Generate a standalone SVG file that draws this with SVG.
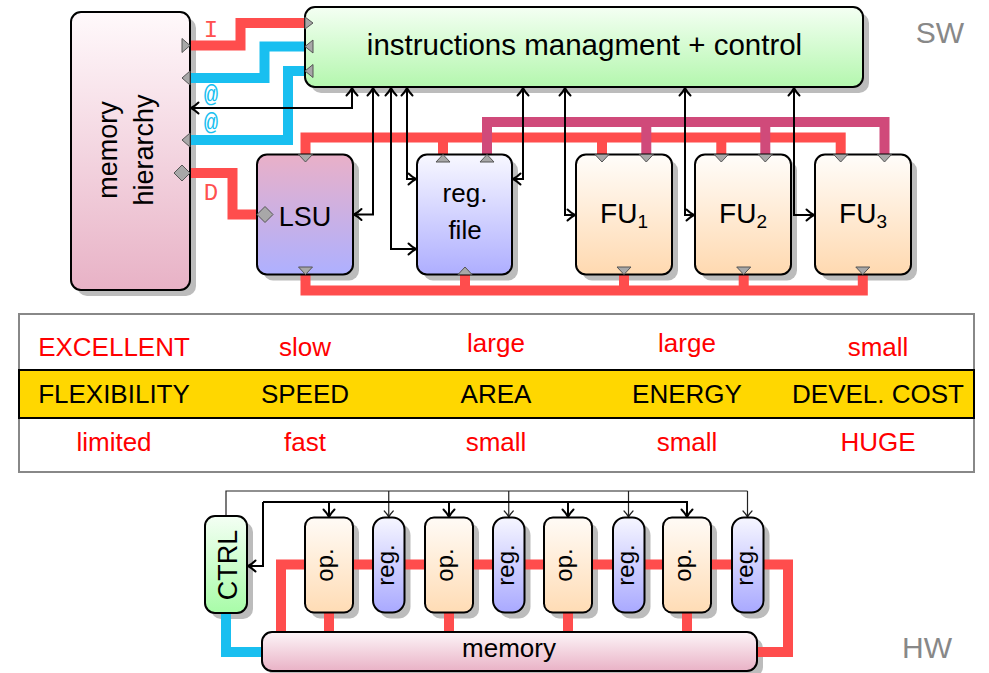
<svg xmlns="http://www.w3.org/2000/svg" width="989" height="673" viewBox="0 0 989 673">
<style>
text{font-family:"Liberation Sans",Arial,sans-serif;fill:#000}
.box{stroke:#000;stroke-width:2}
.sh{fill:#bcbcbc}
.port{fill:#a8a8a8;stroke:#555;stroke-width:1}
.red{fill:none;stroke:#ff4d4d;stroke-width:10}
.blue{fill:none;stroke:#19bff0;stroke-width:10}
.pur{fill:none;stroke:#d04a7a;stroke-width:10}
.ar{fill:none;stroke:#000;stroke-width:2;marker-start:url(#ah);marker-end:url(#ah)}
.ae{fill:none;stroke:#000;stroke-width:2;marker-end:url(#ah)}
.at{fill:none;stroke:#222;stroke-width:1.2;marker-end:url(#at)}
.atn{fill:none;stroke:#222;stroke-width:1.2}
.lab{font-family:"Liberation Mono","Courier New",monospace;font-size:24px}
.tr{fill:#ff0000;font-size:26px}
.tb{font-size:26px}
.gray{fill:#888;font-size:30px}
</style>
<defs>
<linearGradient id="gMH" x1="0" y1="0" x2="0" y2="1"><stop offset="0" stop-color="#fff9fb"/><stop offset="1" stop-color="#e8b2c6"/></linearGradient>
<linearGradient id="gIN" x1="0" y1="0" x2="0" y2="1"><stop offset="0" stop-color="#f4fff3"/><stop offset="1" stop-color="#b4f7ae"/></linearGradient>
<linearGradient id="gLSU" x1="0" y1="0" x2="0" y2="1"><stop offset="0" stop-color="#e9b0c8"/><stop offset="1" stop-color="#aeb0ff"/></linearGradient>
<linearGradient id="gRF" x1="0" y1="0" x2="0" y2="1"><stop offset="0" stop-color="#f8f8ff"/><stop offset="1" stop-color="#aeaeff"/></linearGradient>
<linearGradient id="gFU" x1="0" y1="0" x2="0" y2="1"><stop offset="0" stop-color="#fffdfa"/><stop offset="1" stop-color="#ffd9b0"/></linearGradient>
<linearGradient id="gCT" x1="0" y1="0" x2="0" y2="1"><stop offset="0" stop-color="#f4fff4"/><stop offset="1" stop-color="#a8fca8"/></linearGradient>
<linearGradient id="gOP" x1="0" y1="0" x2="0" y2="1"><stop offset="0" stop-color="#fffbf6"/><stop offset="1" stop-color="#ffdcb5"/></linearGradient>
<linearGradient id="gRG" x1="0" y1="0" x2="0" y2="1"><stop offset="0" stop-color="#f6f6ff"/><stop offset="1" stop-color="#a9a9ff"/></linearGradient>
<linearGradient id="gME" x1="0" y1="0" x2="0" y2="1"><stop offset="0" stop-color="#fdf5f8"/><stop offset="1" stop-color="#e9b2c6"/></linearGradient>
<marker id="ah" markerUnits="userSpaceOnUse" markerWidth="14" markerHeight="14" refX="9" refY="6" orient="auto-start-reverse" overflow="visible"><path d="M1.5,0.5 Q5,4 9,6 Q5,8 1.5,11.5" fill="none" stroke="#000" stroke-width="2" stroke-linecap="round"/></marker>
<marker id="at" markerUnits="userSpaceOnUse" markerWidth="12" markerHeight="12" refX="7" refY="5" orient="auto-start-reverse" overflow="visible"><path d="M1,0.5 Q4,3.5 7,5 Q4,6.5 1,9.5" fill="none" stroke="#222" stroke-width="1.2" stroke-linecap="round"/></marker>
</defs>

<!-- shadows -->
<g id="shadows">
<rect class="sh" x="77" y="18" width="119" height="278" rx="10"/>
<rect class="sh" x="311" y="13" width="558" height="80" rx="10"/>
<rect class="sh" x="263" y="160.5" width="96" height="120" rx="10"/>
<rect class="sh" x="423" y="160.5" width="95" height="120" rx="10"/>
<rect class="sh" x="582" y="160.5" width="96" height="120" rx="10"/>
<rect class="sh" x="701" y="160.5" width="96" height="120" rx="10"/>
<rect class="sh" x="821" y="160.5" width="96" height="120" rx="10"/>
<rect class="sh" x="211" y="522" width="42" height="97" rx="10"/>
<rect class="sh" x="311" y="523.5" width="48" height="95" rx="9"/>
<rect class="sh" x="431" y="523.5" width="48" height="95" rx="9"/>
<rect class="sh" x="550" y="523.5" width="48" height="95" rx="9"/>
<rect class="sh" x="669" y="523.5" width="48" height="95" rx="9"/>
<rect class="sh" x="379" y="523.5" width="31.5" height="95" rx="12"/>
<rect class="sh" x="499" y="523.5" width="31.5" height="95" rx="12"/>
<rect class="sh" x="619" y="523.5" width="31.5" height="95" rx="12"/>
<rect class="sh" x="738" y="523.5" width="31.5" height="95" rx="12"/>
<rect class="sh" x="268" y="638" width="495" height="39" rx="10"/>
</g>

<g id="connectors">
<!-- memory to instructions -->
<path class="red" d="M190,45.5 H240.5 V23 H305"/>
<path class="blue" d="M190,78 H264.5 V46.5 H305"/>
<path class="blue" d="M190,140 H288 V71 H305"/>
<path class="red" d="M190,173 H232.5 V214.5 H257"/>
<!-- top red bus -->
<path class="red" d="M305.5,154.5 V137.5 H840.7 V154.5 M443,137.5 V154.5 M602,137.5 V154.5 M721.3,137.5 V154.5"/>
<!-- purple bus -->
<path class="pur" d="M487,154.5 V122 H884.5 V154.5 M646.3,122 V154.5 M765.3,122 V154.5"/>
<!-- bottom red bus -->
<path class="red" d="M305.5,274.5 V290.5 H862.8 V274.5 M465,290.5 V274.5 M624,290.5 V274.5 M743.7,290.5 V274.5"/>
<!-- control arrows -->
<path class="ar" d="M352,88 V108 H191"/>
<path class="ar" d="M373,88 V214.5 H354"/>
<path class="ar" d="M391,88 V249 H416"/>
<path class="ar" d="M407,88 V179 H416"/>
<path class="ar" d="M523,88 V179 H513"/>
<path class="ar" d="M565,88 V215 H575"/>
<path class="ar" d="M685,88 V215 H694"/>
<path class="ar" d="M794,88 V215 H814"/>
<!-- HW section -->
<path class="red" d="M281,632 V564.5 H788 V652 H757"/>
<path class="red" d="M329,612 V632 M449,612 V632 M568,612 V632 M687,612 V632"/>
<path class="blue" d="M226,613 V652 H262"/>
<path class="atn" d="M226,516 V491 H747.5"/>
<path class="at" d="M388.75,491 V517"/>
<path class="at" d="M508.75,491 V517"/>
<path class="at" d="M628.5,491 V517"/>
<path class="at" d="M747.5,491 V517"/>
<path class="ae" d="M263,502 V566 H248"/>
<path class="ae" d="M263,502 H687 V517"/>
<path class="ae" d="M329,502 V517"/>
<path class="ae" d="M449,502 V517"/>
<path class="ae" d="M568,502 V517"/>
</g>

<g id="memory-hierarchy">
<rect class="box" x="71" y="12" width="119" height="278" rx="10" fill="url(#gMH)"/>
<text transform="translate(117,150) rotate(-90)" text-anchor="middle" font-size="27">memory</text>
<text transform="translate(153,150) rotate(-90)" text-anchor="middle" font-size="27">hierarchy</text>
<polygon class="port" points="182,38.5 190,45.5 182,52.5"/>
<polygon class="port" points="190,71 182,78 190,85"/>
<polygon class="port" points="190,133 182,140 190,147"/>
<polygon class="port" points="174,173 182,165 190,173 182,181"/>
</g>

<g id="labels">
<text class="lab" x="211" y="37" text-anchor="middle" style="fill:#ff5050">I</text>
<text class="lab" x="211" y="102" text-anchor="middle" style="fill:#19bff0">@</text>
<text class="lab" x="211" y="130" text-anchor="middle" style="fill:#19bff0">@</text>
<text class="lab" x="211" y="200" text-anchor="middle" style="fill:#ff5050">D</text>
</g>

<g id="instructions">
<rect class="box" x="305" y="7" width="558" height="80" rx="10" fill="url(#gIN)"/>
<text x="584.5" y="55" text-anchor="middle" font-size="29.5">instructions managment + control</text>
<polygon class="port" points="305,17 313,23 305,29"/>
<polygon class="port" points="313,40 305,46.5 313,53"/>
<polygon class="port" points="313,64.5 305,71 313,77.5"/>
</g>

<g id="lsu">
<rect class="box" x="257" y="154.5" width="96" height="120" rx="10" fill="url(#gLSU)"/>
<text x="305" y="226" text-anchor="middle" font-size="27">LSU</text>
<polygon class="port" points="298.5,154.5 312.5,154.5 305.5,162"/>
<polygon class="port" points="298.5,267 312.5,267 305.5,274.5"/>
<polygon class="port" points="257,214.5 265,206.5 273,214.5 265,222.5"/>
</g>

<g id="regfile">
<rect class="box" x="417" y="154.5" width="95" height="120" rx="10" fill="url(#gRF)"/>
<text x="465" y="202" text-anchor="middle" font-size="26">reg.</text>
<text x="465" y="239" text-anchor="middle" font-size="26">file</text>
<polygon class="port" points="436,162 450,162 443,154.5"/>
<polygon class="port" points="480,162 494,162 487,154.5"/>
<polygon class="port" points="458,274.5 472,274.5 465,267"/>
</g>

<g id="fu1">
<rect class="box" x="576" y="154.5" width="96" height="120" rx="10" fill="url(#gFU)"/>
<text x="624" y="223" text-anchor="middle" font-size="28">FU<tspan font-size="19" dy="5">1</tspan></text>
<polygon class="port" points="595,154.5 609,154.5 602,162"/>
<polygon class="port" points="639.3,154.5 653.3,154.5 646.3,162"/>
<polygon class="port" points="617,267 631,267 624,274.5"/>
</g>
<g id="fu2">
<rect class="box" x="695" y="154.5" width="96" height="120" rx="10" fill="url(#gFU)"/>
<text x="743" y="223" text-anchor="middle" font-size="28">FU<tspan font-size="19" dy="5">2</tspan></text>
<polygon class="port" points="714.3,154.5 728.3,154.5 721.3,162"/>
<polygon class="port" points="758.3,154.5 772.3,154.5 765.3,162"/>
<polygon class="port" points="736.7,267 750.7,267 743.7,274.5"/>
</g>
<g id="fu3">
<rect class="box" x="815" y="154.5" width="96" height="120" rx="10" fill="url(#gFU)"/>
<text x="863" y="223" text-anchor="middle" font-size="28">FU<tspan font-size="19" dy="5">3</tspan></text>
<polygon class="port" points="833.7,154.5 847.7,154.5 840.7,162"/>
<polygon class="port" points="877.5,154.5 891.5,154.5 884.5,162"/>
<polygon class="port" points="855.8,267 869.8,267 862.8,274.5"/>
</g>

<text class="gray" x="940" y="43" text-anchor="middle">SW</text>

<g id="table">
<rect x="19" y="314" width="955" height="158" fill="#fff" stroke="#888" stroke-width="2"/>
<rect x="19" y="370" width="955" height="48" fill="#ffd700" stroke="#000" stroke-width="2"/>
<text class="tr" x="114" y="356" text-anchor="middle">EXCELLENT</text>
<text class="tr" x="305" y="356" text-anchor="middle">slow</text>
<text class="tr" x="496" y="352" text-anchor="middle">large</text>
<text class="tr" x="687" y="352" text-anchor="middle">large</text>
<text class="tr" x="878" y="356" text-anchor="middle">small</text>
<text class="tb" x="114" y="403" text-anchor="middle">FLEXIBILITY</text>
<text class="tb" x="305" y="403" text-anchor="middle">SPEED</text>
<text class="tb" x="496" y="403" text-anchor="middle">AREA</text>
<text class="tb" x="687" y="403" text-anchor="middle">ENERGY</text>
<text class="tb" x="878" y="403" text-anchor="middle">DEVEL. COST</text>
<text class="tr" x="114" y="451" text-anchor="middle">limited</text>
<text class="tr" x="305" y="451" text-anchor="middle">fast</text>
<text class="tr" x="496" y="451" text-anchor="middle">small</text>
<text class="tr" x="687" y="451" text-anchor="middle">small</text>
<text class="tr" x="878" y="451" text-anchor="middle">HUGE</text>
</g>

<g id="ctrl">
<rect class="box" x="205" y="516" width="42" height="97" rx="10" fill="url(#gCT)"/>
<text transform="translate(237,565) rotate(-90)" text-anchor="middle" font-size="27">CTRL</text>
</g>
<g id="op1"><rect class="box" x="305" y="517.5" width="48" height="95" rx="9" fill="url(#gOP)"/><text transform="translate(333,565) rotate(-90)" text-anchor="middle" font-size="24">op.</text></g>
<g id="reg1"><rect class="box" x="373" y="517.5" width="31.5" height="95" rx="12" fill="url(#gRG)"/><text transform="translate(393.5,565) rotate(-90)" text-anchor="middle" font-size="24">reg.</text></g>
<g id="op2"><rect class="box" x="425" y="517.5" width="48" height="95" rx="9" fill="url(#gOP)"/><text transform="translate(453,565) rotate(-90)" text-anchor="middle" font-size="24">op.</text></g>
<g id="reg2"><rect class="box" x="493" y="517.5" width="31.5" height="95" rx="12" fill="url(#gRG)"/><text transform="translate(513.5,565) rotate(-90)" text-anchor="middle" font-size="24">reg.</text></g>
<g id="op3"><rect class="box" x="544" y="517.5" width="48" height="95" rx="9" fill="url(#gOP)"/><text transform="translate(572,565) rotate(-90)" text-anchor="middle" font-size="24">op.</text></g>
<g id="reg3"><rect class="box" x="613" y="517.5" width="31.5" height="95" rx="12" fill="url(#gRG)"/><text transform="translate(633.5,565) rotate(-90)" text-anchor="middle" font-size="24">reg.</text></g>
<g id="op4"><rect class="box" x="663" y="517.5" width="48" height="95" rx="9" fill="url(#gOP)"/><text transform="translate(691,565) rotate(-90)" text-anchor="middle" font-size="24">op.</text></g>
<g id="reg4"><rect class="box" x="732" y="517.5" width="31.5" height="95" rx="12" fill="url(#gRG)"/><text transform="translate(752.5,565) rotate(-90)" text-anchor="middle" font-size="24">reg.</text></g>
<g id="memory">
<rect class="box" x="262" y="632" width="495" height="39" rx="10" fill="url(#gME)"/>
<text x="509" y="657" text-anchor="middle" font-size="26">memory</text>
</g>
<text class="gray" x="927" y="658" text-anchor="middle">HW</text>
</svg>
